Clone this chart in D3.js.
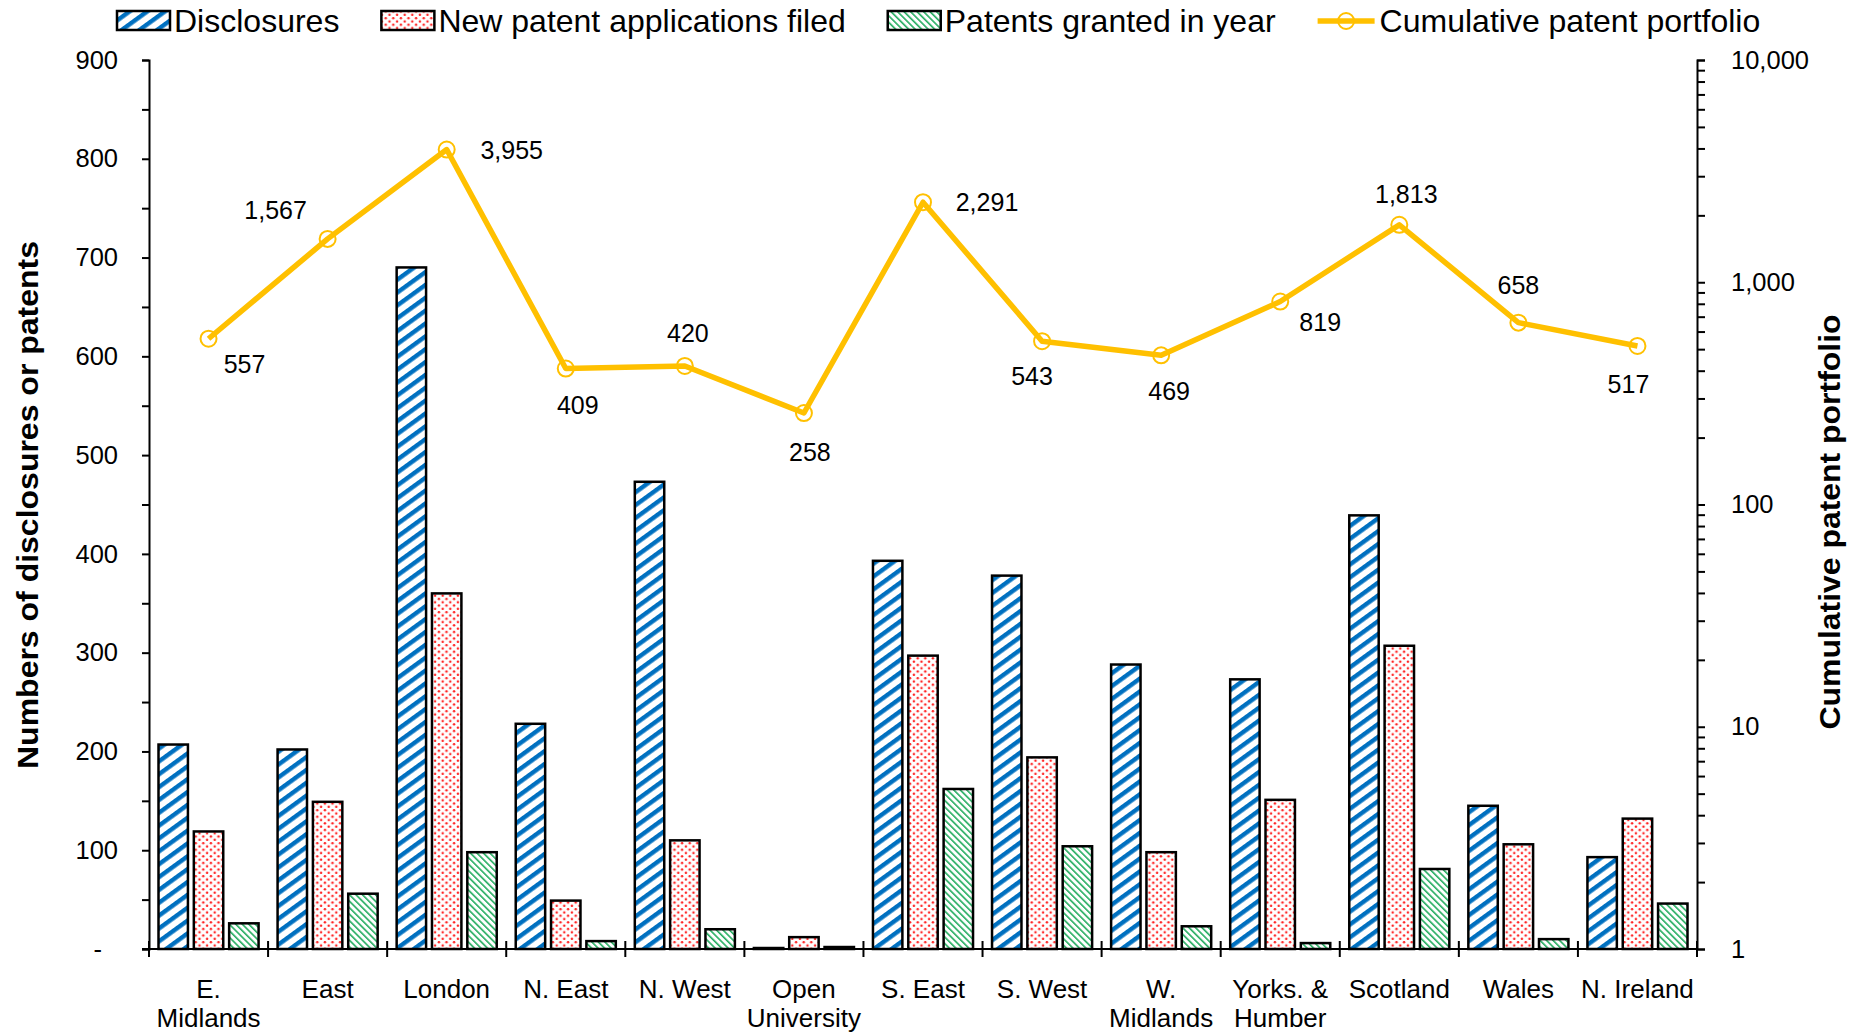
<!DOCTYPE html>
<html><head><meta charset="utf-8">
<script src="https://cdn.jsdelivr.net/npm/d3@7/dist/d3.min.js"></script>
<style>
html,body{margin:0;padding:0;background:#fff;}
svg text{font-family:"Liberation Sans",Arial,sans-serif;fill:#000;}
</style></head>
<body>
<svg id="chart" width="1856" height="1034"></svg>
<script>
// ---------- DATA ----------
const categories = ["E.\nMidlands","East","London","N. East","N. West","Open\nUniversity","S. East","S. West","W.\nMidlands","Yorks. &\nHumber","Scotland","Wales","N. Ireland"];
const seriesNames = ["Disclosures","New patent applications filed","Patents granted in year"];
const lineName = "Cumulative patent portfolio";
const disclosures     = [207, 202, 690, 228, 473,  1, 393, 378, 288, 273, 439, 145,  93];
const newApplications = [119, 149, 360,  49, 110, 12, 297, 194,  98, 151, 307, 106, 132];
const patentsGranted  = [ 26,  56,  98,   8,  20,  2, 162, 104,  23,   6,  81,  10,  46];
const cumulativePortfolio = [557, 1567, 3955, 409, 420, 258, 2291, 543, 469, 819, 1813, 658, 517];
const leftTickValues = [0,50,100,150,200,250,300,350,400,450,500,550,600,650,700,750,800,850,900];
const leftTickLabels = [0,100,200,300,400,500,600,700,800,900];
const rightTickLabels = [1,10,100,1000,10000];
// label placement offsets (px) for the line's data labels
const labelOffsets = [[36,25],[-52,-29],[65,0],[12,36],[3,-33],[6,39],[64,0],[-10,35],[8,36],[40,20],[7,-31],[0,-38],[-9,38]];

// ---------- LAYOUT ----------
const L = 149, R = 1697, T = 60, B = 949;
const svg = d3.select("#chart");
const defs = svg.append("defs");

// patterns
const pBlue = defs.append("pattern").attr("id","pBlue").attr("patternUnits","userSpaceOnUse")
  .attr("width",10.4).attr("height",10.4).attr("patternTransform","rotate(54)");
pBlue.append("rect").attr("width",10.4).attr("height",10.4).attr("fill","#fff");
pBlue.append("rect").attr("x",0).attr("width",4.4).attr("height",10.4).attr("fill","#0070C0");

const pRed = defs.append("pattern").attr("id","pRed").attr("patternUnits","userSpaceOnUse")
  .attr("width",7.6).attr("height",6.6);
pRed.append("rect").attr("width",7.6).attr("height",6.6).attr("fill","#fff");
pRed.append("circle").attr("cx",1.9).attr("cy",1.65).attr("r",1.25).attr("fill","#FF2020");
pRed.append("circle").attr("cx",5.7).attr("cy",4.95).attr("r",1.25).attr("fill","#FF2020");

const pGreen = defs.append("pattern").attr("id","pGreen").attr("patternUnits","userSpaceOnUse")
  .attr("width",4.6).attr("height",4.6).attr("patternTransform","rotate(-45)");
pGreen.append("rect").attr("width",4.6).attr("height",4.6).attr("fill","#fff");
pGreen.append("rect").attr("x",0).attr("width",1.6).attr("height",4.6).attr("fill","#22AC5E");

const fills = ["url(#pBlue)","url(#pRed)","url(#pGreen)"];
const seriesValues = [disclosures, newApplications, patentsGranted];

// scales
const x = d3.scaleBand().domain(categories).range([L,R]).paddingInner(0).paddingOuter(0);
const cw = x.bandwidth();
const x1 = d3.scaleBand().domain(seriesNames).range([9.5, cw-9.5]).paddingInner(0.167).paddingOuter(0);
const y = d3.scaleLinear().domain([0,900]).range([B,T]);
const yR = d3.scaleLog().domain([1,10000]).range([B,T]);

// bars
seriesNames.forEach((s,si)=>{
  svg.append("g").selectAll("rect").data(seriesValues[si]).join("rect")
    .attr("x",(d,i)=>x(categories[i])+x1(s))
    .attr("y",d=>y(d))
    .attr("width",x1.bandwidth())
    .attr("height",d=>y(0)-y(d))
    .attr("fill",fills[si])
    .attr("stroke","#000").attr("stroke-width",2.5);
});

// left axis
const axL = svg.append("g").attr("transform",`translate(${L},0)`)
  .call(d3.axisLeft(y).tickValues(leftTickValues).tickSize(7).tickPadding(24)
    .tickFormat(d=> leftTickLabels.includes(d) ? (d===0 ? "-" : String(d)) : ""));
axL.selectAll("text").style("font-size","25.5px");
axL.selectAll(".tick").filter(d=>d===0).select("text").attr("dx",-16);

// right axis
const rightTicks = [];
for (let e=0;e<4;e++) for (let m=1;m<10;m++) rightTicks.push(m*Math.pow(10,e));
rightTicks.push(10000);
const axR = svg.append("g").attr("transform",`translate(${R},0)`)
  .call(d3.axisRight(yR).tickValues(rightTicks).tickSize(8).tickPadding(26)
    .tickFormat(d=> rightTickLabels.includes(d) ? d3.format(",")(d) : ""));
axR.selectAll("text").style("font-size","25.5px");

[axL,axR].forEach(a=>{
  a.select(".domain").attr("stroke","#000").attr("stroke-width",2);
  a.selectAll(".tick line").attr("stroke","#000").attr("stroke-width",2);
});

// bottom axis
const gB = svg.append("g");
gB.append("line").attr("x1",L-7).attr("x2",R).attr("y1",B).attr("y2",B).attr("stroke","#000").attr("stroke-width",2);
const bounds = categories.map(c=>x(c)).concat([R]);
gB.selectAll("line.tk").data(bounds).join("line").attr("class","tk")
  .attr("x1",d=>d).attr("x2",d=>d).attr("y1",B-8).attr("y2",B+8)
  .attr("stroke","#000").attr("stroke-width",2);
categories.forEach(c=>{
  const t = gB.append("text").attr("text-anchor","middle").style("font-size","26px");
  c.split("\n").forEach((ln,k)=>{
    t.append("tspan").attr("x",x(c)+cw/2).attr("y",998+k*29).text(ln);
  });
});

// line
const pts = cumulativePortfolio.map((v,i)=>[x(categories[i])+cw/2, yR(v)]);
svg.append("path").attr("d",d3.line()(pts)).attr("fill","none")
  .attr("stroke","#FFC000").attr("stroke-width",5.5).attr("stroke-linejoin","round");
svg.append("g").selectAll("circle").data(pts).join("circle")
  .attr("cx",d=>d[0]).attr("cy",d=>d[1]).attr("r",8)
  .attr("fill","none").attr("stroke","#FFC000").attr("stroke-width",2);
svg.append("g").selectAll("text").data(cumulativePortfolio).join("text")
  .attr("x",(d,i)=>pts[i][0]+labelOffsets[i][0])
  .attr("y",(d,i)=>pts[i][1]+labelOffsets[i][1])
  .attr("text-anchor","middle").attr("dominant-baseline","central")
  .style("font-size","25px").text(d=>d3.format(",")(d));

// axis titles
svg.append("text").attr("transform","translate(28,505) rotate(-90)")
  .attr("text-anchor","middle").attr("dominant-baseline","central")
  .style("font-size","29px").style("font-weight","bold")
  .attr("textLength",528).attr("lengthAdjust","spacingAndGlyphs")
  .text("Numbers of disclosures or patents");
svg.append("text").attr("transform","translate(1830,522) rotate(-90)")
  .attr("text-anchor","middle").attr("dominant-baseline","central")
  .style("font-size","29px").style("font-weight","bold")
  .attr("textLength",415).attr("lengthAdjust","spacingAndGlyphs")
  .text("Cumulative patent portfolio");

// legend
const lg = svg.append("g");
let lx = 117;
const items = seriesNames.map((s,i)=>({name:s, fill:fills[i], type:"bar"})).concat([{name:lineName,type:"line"}]);
items.forEach(it=>{
  if (it.type==="bar") {
    lg.append("rect").attr("x",lx).attr("y",11).attr("width",53).attr("height",19)
      .attr("fill",it.fill).attr("stroke","#000").attr("stroke-width",2.5);
    lx += 57;
  } else {
    lg.append("line").attr("x1",lx).attr("x2",lx+57).attr("y1",21).attr("y2",21)
      .attr("stroke","#FFC000").attr("stroke-width",5.5);
    lg.append("circle").attr("cx",lx+28.5).attr("cy",21).attr("r",8)
      .attr("fill","none").attr("stroke","#FFC000").attr("stroke-width",2);
    lx += 62;
  }
  const t = lg.append("text").attr("x",lx).attr("y",32).style("font-size","32px").text(it.name);
  lx += t.node().getComputedTextLength() + 42;
});
</script>
</body></html>
